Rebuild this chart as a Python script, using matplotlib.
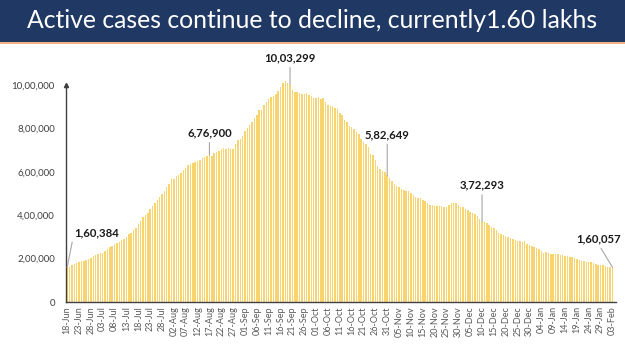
import matplotlib
matplotlib.use("Agg")
import matplotlib.pyplot as plt
from matplotlib.patches import Rectangle
import pandas as pd
import numpy as np

# ---------------- data ----------------
title = "Active cases continue to decline, currently1.60 lakhs"
start_date = "2020-06-18"
end_date = "2021-02-03"

jun = [160384, 163248, 169451, 174387, 178014, 183022, 186514, 189463, 193012,
       197387, 203051, 210120, 215125]
jul = [220114, 226947, 227439, 235433, 244814, 253287, 259557, 264944, 269789,
       276882, 283407, 292258, 301609, 311565, 319840, 331146, 342473, 358692,
       373379, 390459, 402529, 411133, 426167, 440135, 456071, 467882, 485114,
       495513, 509447, 528242, 545318]
aug = [565103, 567730, 579357, 586244, 595501, 607384, 619088, 628747, 634945,
       639929, 643948, 647620, 653622, 661595, 668220, 670720, 676900, 673166,
       685087, 692028, 697330, 704348, 707267, 706398, 710771, 704348, 706398,
       725991, 746608, 752424, 765302]
sep = [785996, 801282, 815538, 831124, 846395, 862320, 883697, 886440, 908254,
       919018, 935422, 943480, 947576, 958316, 970492, 990061, 1009976, 1017754,
       1010824, 1003299, 975861, 968377, 966382, 960969, 956402, 958442, 962640,
       955000, 949519, 940441]
oct_ = [940705, 944996, 934427, 937625, 919023, 907883, 903932, 902425, 894064,
        886637, 870910, 862620, 836130, 826876, 812390, 804528, 795087, 783311,
        774187, 748538, 736324, 728329, 715812, 683324, 676400, 653717, 625857,
        610803, 603687, 596776, 582649]
nov = [570458, 558691, 541405, 533787, 527962, 520773, 516632, 512665, 509673,
       503196, 494657, 484547, 480719, 479216, 470366, 465478, 454940, 448405,
       445794, 443794, 440962, 443486, 443303, 438667, 439747, 447589, 453956,
       454940, 453956, 447211]
dec = [438667, 435603, 428644, 422943, 416082, 410667, 403248, 396729, 383866,
       372293, 368416, 362100, 354904, 347576, 338591, 329739, 318769, 313831,
       307740, 303639, 300193, 292518, 289240, 285918, 281919, 281283, 277301,
       278690, 269209, 262272, 257656]
jan = [254254, 250183, 243953, 236308, 227546, 228083, 225449, 222526, 220676,
       222416, 221708, 216558, 214507, 213027, 211033, 208826, 208012, 200528,
       197201, 192308, 190096, 188688, 185662, 184408, 184182, 178353, 173740,
       171686, 169824, 168235, 165925]
feb = [163353, 161625, 160057]

active = jun + jul + aug + sep + oct_ + nov + dec + jan + feb

# annotated points: (date, label)
ann_dates = ["2020-06-18", "2020-08-17", "2020-09-20", "2020-10-31",
             "2020-12-10", "2021-02-03"]
ann_labels = ["1,60,384", "6,76,900", "10,03,299", "5,82,649", "3,72,293", "1,60,057"]

yticks = [0, 200000, 400000, 600000, 800000, 1000000]
ytick_labels = ["0", "2,00,000", "4,00,000", "6,00,000", "8,00,000", "10,00,000"]

# ---------------- figure ----------------
dates = pd.date_range(start_date, end_date, freq="D")
assert len(dates) == len(active)
x = np.arange(len(dates))

W, H = 625, 351
fig = plt.figure(figsize=(W / 100, H / 100), dpi=100)
plt.rcParams["font.family"] = ["Lato", "DejaVu Sans"]

# banner
fig.patches.append(Rectangle((0, 1 - 42 / H), 1, 42 / H, transform=fig.transFigure,
                             facecolor="#203864", edgecolor="none", zorder=0))
fig.patches.append(Rectangle((0, 1 - 44 / H), 1, 2 / H, transform=fig.transFigure,
                             facecolor="#F4B183", edgecolor="none", zorder=0))
fig.text(0.5, 1 - 21 / H, title, color="white", fontsize=17.8,
         ha="center", va="center", family=["Lato", "DejaVu Sans"])

ax_left = 66 / W
ax_bottom = 1 - 302 / H
ax_right = 616 / W
ax_top = 1 - 74 / H
ax = fig.add_axes([ax_left, ax_bottom, ax_right - ax_left, ax_top - ax_bottom])

ax.bar(x, active, width=0.62, color="#F7D470", edgecolor="none", zorder=2)

ax.set_xlim(-0.5, len(x) - 0.5 + 1.0)
ax.set_ylim(0, 1050000)

for s in ["top", "right"]:
    ax.spines[s].set_visible(False)
ax.spines["left"].set_bounds(0, 1000000)
ax.spines["left"].set_color("#404040")
ax.spines["bottom"].set_color("#404040")
ax.spines["left"].set_linewidth(1.0)
ax.spines["bottom"].set_linewidth(1.0)
ax.plot([-0.5], [1000000], marker="^", markersize=3, color="#404040",
        clip_on=False, zorder=5)

ax.set_yticks(yticks)
ax.set_yticklabels(ytick_labels, fontsize=7, color="#404040")
ax.tick_params(axis="y", length=0, pad=8)

tick_idx = x[::5]
ax.set_xticks(tick_idx)
ax.set_xticklabels([d.strftime("%d-%b") for d in dates[::5]], rotation=90,
                   fontsize=6.5, color="#595959")
ax.tick_params(axis="x", length=0, pad=3)

# annotations: (dx, dy) offsets of text centre in points
offsets = [(5, 25, "left", (0, 0.5)), (0, 16, "center", (0.5, 0)),
           (0, 19, "center", (0.5, 0)), (0, 29.5, "center", (0.5, 0)),
           (0, 26, "center", (0.5, 0)), (-10, 20.5, "center", (0.5, 0))]
for d, lab, (dx, dy, ha, rp) in zip(ann_dates, ann_labels, offsets):
    i = dates.get_loc(pd.Timestamp(d))
    ax.annotate(lab, xy=(x[i], active[i]), xytext=(dx, dy), textcoords="offset points",
                ha=ha, va="center",
                fontsize=8.2, fontweight="bold", color="#1a1a1a",
                arrowprops=dict(arrowstyle="-", color="#a6a6a6", lw=0.8,
                                shrinkA=1, shrinkB=0, relpos=rp),
                zorder=6, annotation_clip=False)

fig.savefig("out.png", dpi=100, facecolor="white")
